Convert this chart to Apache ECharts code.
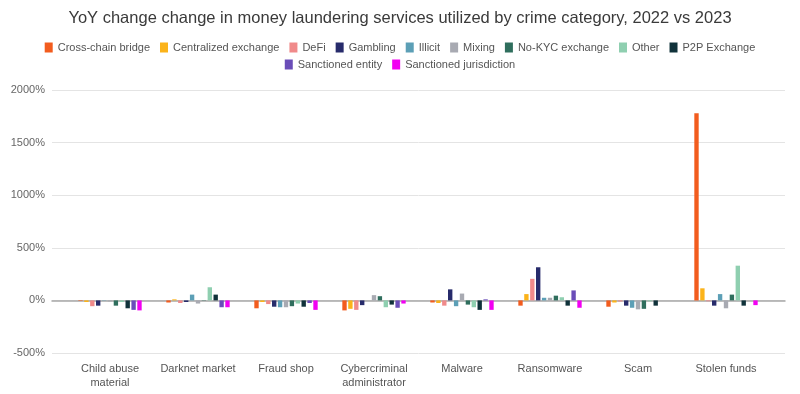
<!DOCTYPE html>
<html>
<head>
<meta charset="utf-8">
<script src="https://cdn.jsdelivr.net/npm/echarts@6/dist/echarts.min.js"></script>
<style>html,body{margin:0;padding:0;background:#fff}#c{width:800px;height:394px}</style>
</head>
<body>
<div id="c"></div>
<script>
var categories = ['Child abuse\nmaterial','Darknet market','Fraud shop','Cybercriminal\nadministrator','Malware','Ransomware','Scam','Stolen funds'];
var seriesNames = ['Cross-chain bridge','Centralized exchange','DeFi','Gambling','Illicit','Mixing','No-KYC exchange','Other','P2P Exchange','Sanctioned entity','Sanctioned jurisdiction'];
var crossChain       = [-5, -20, -75, -95, -20, -50, -60, 1780];
var centralized      = [-15, 10, -15, -80, -25, 60, -20, 115];
var defi             = [-55, -25, -35, -90, -50, 205, -10, -8];
var gambling         = [-50, -15, -60, -45, 105, 315, -50, -50];
var illicit          = [-3, 55, -65, 0, -55, 25, -70, 60];
var mixing           = [-10, -30, -65, 50, 65, 25, -85, -75];
var noKyc            = [-50, 3, -55, 40, -40, 45, -80, 55];
var other            = [-15, 125, -30, -65, -65, 30, -8, 330];
var p2p              = [-75, 55, -60, -40, -90, -50, -50, -50];
var sanctionedEntity = [-90, -65, -25, -70, 10, 95, 0, 0];
var sanctionedJur    = [-95, -65, -90, -30, -90, -70, 0, -45];
var yTicks = {min: -500, max: 2000, interval: 500};

var allData = [crossChain, centralized, defi, gambling, illicit, mixing, noKyc, other, p2p, sanctionedEntity, sanctionedJur];
var colors = ['#f25c1e','#fbb31a','#f08a8a','#272b6b','#5c9fb6','#a8aab2','#2f6e5d','#8fcfb0','#10323a','#6a4db8','#f200f2'];
var FONT = "'Liberation Sans',Arial,sans-serif";

var chart = echarts.init(document.getElementById('c'));
var series = allData.map(function(d, i){
  return {
    name: seriesNames[i], type: 'bar', xAxisIndex: 1, yAxisIndex: 1,
    data: d, itemStyle: {color: colors[i]},
    barCategoryGap: '28%', barGap: '35%'
  };
});
var legendText = {color: '#555', fontSize: 11, fontFamily: FONT};
chart.setOption({
  animation: false,
  color: colors,
  title: {text: 'YoY change change in money laundering services utilized by crime category, 2022 vs 2023',
          left: 'center', top: 5,
          textStyle: {color: '#3a3a3a', fontSize: 16.5, fontWeight: 'normal', fontFamily: FONT}},
  legend: [
    {data: seriesNames.slice(0, 9), left: 'center', top: 37, width: 790, itemWidth: 8, itemHeight: 10, itemGap: 10,
     icon: 'rect', textStyle: legendText},
    {data: seriesNames.slice(9), left: 'center', top: 54, itemWidth: 8, itemHeight: 10, itemGap: 10,
     icon: 'rect', textStyle: legendText}
  ],
  grid: [
    {left: 52, right: 15, top: 90, bottom: 41},
    {left: 66, right: 30, top: 90, bottom: 41}
  ],
  xAxis: [
    {gridIndex: 0, type: 'value', min: 0, max: 1, axisLabel: {show: false}, axisTick: {show: false},
     splitLine: {show: false}, axisLine: {show: true, onZero: true, lineStyle: {color: '#a8a8a8', width: 1.5}}},
    {gridIndex: 1, type: 'category', data: categories, axisTick: {show: false},
     axisLine: {show: false, onZero: false},
     axisLabel: {color: '#555', fontSize: 11, fontFamily: FONT, lineHeight: 14, margin: 9, interval: 0}}
  ],
  yAxis: [
    {gridIndex: 0, type: 'value', min: yTicks.min, max: yTicks.max, interval: yTicks.interval,
     axisLabel: {formatter: function(v){ return v + '%'; }, color: '#666', fontSize: 11, fontFamily: FONT, margin: 7},
     axisLine: {show: false}, axisTick: {show: false},
     splitLine: {lineStyle: {color: '#e4e4e4', width: 1}}},
    {gridIndex: 1, type: 'value', min: yTicks.min, max: yTicks.max, interval: yTicks.interval,
     axisLabel: {show: false}, axisLine: {show: false}, axisTick: {show: false}, splitLine: {show: false}}
  ],
  series: series
});
</script>
</body>
</html>
